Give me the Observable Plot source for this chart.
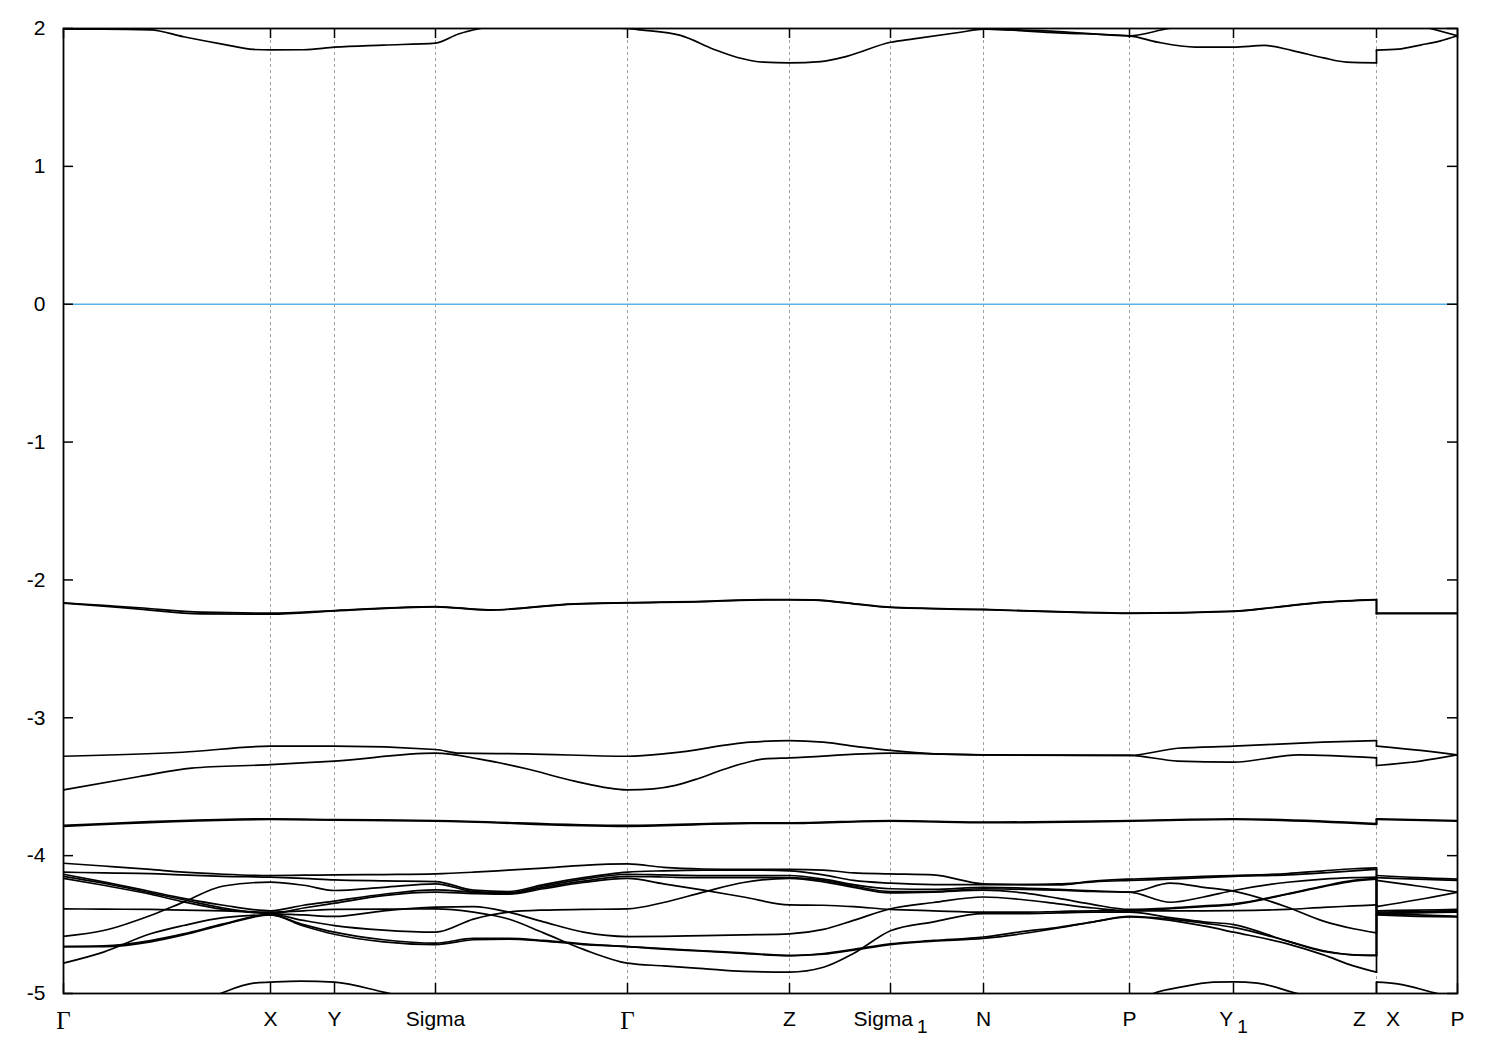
<!DOCTYPE html>
<html>
<head>
<meta charset="utf-8">
<script src="https://cdn.jsdelivr.net/npm/d3@7"></script>
<script src="https://cdn.jsdelivr.net/npm/@observablehq/plot@0.6"></script>
<style>
  body { margin: 0; background: #fff; }
  #chart svg text { font-family: "Liberation Sans", Arial, sans-serif; }
</style>
</head>
<body>
<div id="chart"></div>
<script>
// ---- high-symmetry path ----
const kTicks  = [0, 207, 271, 372, 564, 726, 827, 920, 1066, 1170, 1313, 1394];
const kLabels = ["Γ", "X", "Y", "Sigma", "Γ", "Z", "Sigma1", "N", "P", "Y1", "Z|X", "P"];
const yTicks  = [2, 1, 0, -1, -2, -3, -4, -5];
const fermiLevel = [0];

// ---- conduction bands near 2 eV ----
const c1K = [0,40,87,120,160,190,207,240,271,320,372,395,417,445,480,520,550,564,577,617,650,674,700,726,757,784,827,850,897,920,995,1066,1094,1132,1170,1201,1229,1260,1283,1313,1313,1335,1357,1377,1394];
const c1E = [1.995,1.995,1.99,1.94,1.885,1.848,1.845,1.846,1.865,1.88,1.894,1.96,2.00,2.03,2.05,2.03,2.005,2.0,1.99,1.95,1.85,1.79,1.756,1.751,1.76,1.80,1.90,1.925,1.973,1.995,1.968,1.947,1.901,1.865,1.865,1.877,1.84,1.787,1.756,1.751,1.843,1.85,1.88,1.91,1.947];
const c2K = [564,640,726,790,827,880,920,995,1066,1105,1170,1250,1313,1313,1367,1394];
const c2E = [2.2,2.15,2.1,2.07,2.04,2.01,1.998,1.978,1.947,2.0,2.05,2.08,2.1,2.1,2.0,1.947];

// ---- valence band near -2.2 (two nearly degenerate) ----
const v1K  = [0,40,76,138,207,271,372,425,511,564,640,687,726,750,798,827,920,1012,1066,1170,1211,1259,1313,1313,1394];
const v1aE = [-2.166,-2.185,-2.202,-2.234,-2.241,-2.222,-2.193,-2.217,-2.173,-2.164,-2.155,-2.144,-2.142,-2.144,-2.178,-2.198,-2.214,-2.234,-2.241,-2.227,-2.198,-2.161,-2.142,-2.241,-2.241];
const v1bE = [-2.168,-2.19,-2.212,-2.246,-2.248,-2.225,-2.195,-2.219,-2.175,-2.166,-2.157,-2.146,-2.144,-2.146,-2.18,-2.2,-2.216,-2.236,-2.243,-2.229,-2.2,-2.163,-2.144,-2.245,-2.245];

// ---- bands near -3.2 / -3.5 ----
const v2K = [0,119,207,271,372,396,463,564,607,687,726,760,798,827,871,920,1066,1114,1170,1259,1313,1313,1357,1394];
const v2E = [-3.279,-3.25,-3.206,-3.206,-3.23,-3.257,-3.262,-3.279,-3.257,-3.177,-3.165,-3.177,-3.213,-3.237,-3.262,-3.269,-3.273,-3.221,-3.206,-3.177,-3.165,-3.206,-3.237,-3.269];
const v3K = [0,76,128,207,271,372,415,463,511,564,590,612,635,660,687,701,726,827,920,1066,1114,1170,1235,1313,1313,1357,1394];
const v3E = [-3.523,-3.426,-3.365,-3.34,-3.314,-3.257,-3.298,-3.37,-3.46,-3.523,-3.515,-3.49,-3.44,-3.375,-3.317,-3.298,-3.291,-3.257,-3.269,-3.273,-3.314,-3.322,-3.269,-3.291,-3.346,-3.314,-3.269];

// ---- bands near -3.75 (two nearly degenerate) ----
const v4K  = [0,207,271,372,564,687,726,827,920,1066,1170,1313,1313,1394];
const v4aE = [-3.781,-3.733,-3.738,-3.745,-3.781,-3.762,-3.762,-3.745,-3.757,-3.745,-3.733,-3.768,-3.733,-3.745];
const v4bE = [-3.787,-3.738,-3.742,-3.75,-3.787,-3.767,-3.766,-3.75,-3.761,-3.75,-3.738,-3.773,-3.738,-3.75];

// ---- dense group between -4 and -5 ----
const kDense = [0,40,87,120,160,207,240,271,320,372,410,445,480,520,564,600,640,680,726,760,790,827,870,920,960,995,1030,1066,1107,1140,1170,1224,1260,1290,1313,1313,1354,1394];
const d1  = [-4.055,-4.075,-4.10,-4.12,-4.135,-4.144, -4.142,-4.14,-4.137,-4.132, -4.12,-4.105,-4.09,-4.07,-4.06, -4.085,-4.097,-4.10,-4.10, -4.105,-4.125,-4.132, -4.14,-4.205, -4.21,-4.212,-4.185,-4.17, -4.16,-4.15,-4.144,-4.13,-4.11,-4.095,-4.089, -4.144,-4.16,-4.17];
const d2  = [-4.12,-4.125,-4.13,-4.14,-4.15,-4.156, -4.165,-4.176,-4.183,-4.188, -4.25,-4.26,-4.21,-4.16,-4.12, -4.11,-4.105,-4.105,-4.11, -4.14,-4.18,-4.20, -4.21,-4.21, -4.21,-4.205,-4.19,-4.18, -4.17,-4.16,-4.15,-4.14,-4.125,-4.11,-4.10, -4.16,-4.17,-4.18];
const d3  = [-4.135,-4.19,-4.26,-4.31,-4.36,-4.40, -4.36,-4.33,-4.28,-4.248, -4.265,-4.275,-4.23,-4.185,-4.15, -4.155,-4.16,-4.16,-4.16, -4.18,-4.22,-4.26, -4.26,-4.24, -4.245,-4.25,-4.26,-4.265, -4.338,-4.30,-4.253,-4.193,-4.17,-4.16,-4.156, -4.37,-4.32,-4.265];
const d4  = [-4.15,-4.20,-4.27,-4.32,-4.38,-4.42, -4.38,-4.345,-4.29,-4.265, -4.275,-4.28,-4.24,-4.195,-4.165, -4.205,-4.25,-4.30,-4.357, -4.36,-4.37,-4.39, -4.40,-4.41, -4.41,-4.405,-4.40,-4.40, -4.40,-4.40,-4.399,-4.39,-4.375,-4.365,-4.357, -4.42,-4.41,-4.40];
const d5  = [-4.165,-4.215,-4.28,-4.335,-4.39,-4.42, -4.43,-4.441,-4.40,-4.374, -4.37,-4.41,-4.48,-4.555,-4.587, -4.585,-4.58,-4.575,-4.567, -4.535,-4.47,-4.385, -4.34,-4.30, -4.32,-4.35,-4.38,-4.40, -4.385,-4.37,-4.355,-4.28,-4.225,-4.185,-4.17, -4.41,-4.405,-4.40];
const d6  = [-4.386,-4.388,-4.39,-4.395,-4.40,-4.41, -4.40,-4.39,-4.388,-4.386, -4.41,-4.46,-4.56,-4.68,-4.78, -4.80,-4.82,-4.84,-4.845, -4.81,-4.71,-4.545, -4.48,-4.42, -4.42,-4.415,-4.41,-4.41, -4.45,-4.48,-4.50,-4.62,-4.69,-4.72,-4.724, -4.42,-4.415,-4.41];
const d7  = [-4.585,-4.543,-4.434,-4.337,-4.22,-4.192, -4.215,-4.253,-4.23,-4.205, -4.26,-4.27,-4.22,-4.17,-4.135, -4.14,-4.145,-4.145,-4.144, -4.17,-4.21,-4.24, -4.245,-4.23, -4.235,-4.245,-4.255,-4.265, -4.20,-4.23,-4.258,-4.374,-4.475,-4.53,-4.56, -4.18,-4.22,-4.265];
const d8  = [-4.66,-4.655,-4.616,-4.567,-4.495,-4.425, -4.47,-4.507,-4.54,-4.555, -4.46,-4.41,-4.395,-4.39,-4.386, -4.34,-4.265,-4.195,-4.165, -4.19,-4.23,-4.27, -4.265,-4.25, -4.27,-4.31,-4.355,-4.39, -4.38,-4.365,-4.35,-4.277,-4.22,-4.18,-4.165, -4.40,-4.395,-4.39];
const d9  = [-4.66,-4.66,-4.625,-4.575,-4.50,-4.43, -4.50,-4.555,-4.61,-4.635, -4.60,-4.60,-4.615,-4.64,-4.66, -4.675,-4.69,-4.705,-4.725, -4.71,-4.68,-4.64, -4.615,-4.59, -4.55,-4.52,-4.48,-4.44, -4.46,-4.49,-4.52,-4.62,-4.695,-4.72,-4.724, -4.425,-4.43,-4.44];
const d10 = [-4.78,-4.70,-4.567,-4.507,-4.45,-4.43, -4.51,-4.57,-4.625,-4.645, -4.61,-4.605,-4.62,-4.645,-4.66, -4.678,-4.693,-4.71,-4.725, -4.715,-4.685,-4.645, -4.62,-4.60, -4.565,-4.525,-4.48,-4.445, -4.47,-4.51,-4.555,-4.64,-4.72,-4.80,-4.845, -4.43,-4.44,-4.445];

// ---- lowest band (mostly below -5) ----
const lK = [0,100,157,190,207,237,271,320,372,564,726,1066,1090,1117,1150,1170,1194,1234,1313,1313,1334,1374,1394];
const lE = [-5.5,-5.2,-5.0,-4.925,-4.918,-4.91,-4.918,-4.99,-5.08,-5.4,-5.4,-5.1,-5.0,-4.954,-4.918,-4.915,-4.925,-5.0,-5.1,-4.918,-4.93,-5.0,-5.03];

// ---- assemble: each band split at the Z|X discontinuity ----
const zip = (K, E) => K.map((k, i) => ({k, E: E[i]}));
const bandList = [
  zip(c1K, c1E), zip(c2K, c2E),
  zip(v1K, v1aE), zip(v1K, v1bE),
  zip(v2K, v2E), zip(v3K, v3E),
  zip(v4K, v4aE), zip(v4K, v4bE),
  ...[d1, d2, d3, d4, d5, d6, d7, d8, d9, d10].map(d => zip(kDense, d)),
  zip(lK, lE)
];
const smoothParts = [], jumpParts = [];
bandList.forEach((b, bi) => {
  let start = 0;
  for (let i = 1; i < b.length; i++) {
    if (b[i].k === b[i - 1].k) {
      smoothParts.push(b.slice(start, i).map(p => ({...p, id: bi + "-" + start})));
      jumpParts.push([b[i - 1], b[i]].map(p => ({...p, id: bi + "-j" + i})));
      start = i;
    }
  }
  smoothParts.push(b.slice(start).map(p => ({...p, id: bi + "-" + start})));
});
const smoothData = smoothParts.flat();
const jumpData = jumpParts.flat();

const W = 1500, H = 1050;
const mL = 63, mR = 43, mT = 28, mB = 57;
const xDom = [kTicks[0], kTicks[kTicks.length - 1]];
const yDom = [-5, 2];
const tickPx = 10;
const tickK = tickPx * (xDom[1] - xDom[0]) / (W - mL - mR);
const tickE = tickPx * (yDom[1] - yDom[0]) / (H - mT - mB);

const svg = Plot.plot({
  width: W, height: H,
  marginLeft: mL, marginRight: mR, marginTop: mT, marginBottom: mB,
  x: {domain: xDom},
  y: {domain: yDom},
  style: {fontFamily: "Liberation Sans, Arial, sans-serif", background: "#fff"},
  marks: [
    Plot.ruleX(kTicks.slice(1, -1), {stroke: "#a0a0a0", strokeWidth: 1, strokeDasharray: "3,3"}),
    Plot.ruleY(fermiLevel, {stroke: "#56b4e9", strokeWidth: 1.6}),
    Plot.line(smoothData, {x: "k", y: "E", z: "id", curve: "monotone-x", stroke: "black", strokeWidth: 1.7, clip: true}),
    Plot.line(jumpData, {x: "k", y: "E", z: "id", stroke: "black", strokeWidth: 1.7, clip: true}),
    Plot.frame({stroke: "black", strokeWidth: 1.8}),
    Plot.ruleY(yTicks, {x1: xDom[0], x2: xDom[0] + tickK, stroke: "black", strokeWidth: 1.5}),
    Plot.ruleY(yTicks, {x1: xDom[1] - tickK, x2: xDom[1], stroke: "black", strokeWidth: 1.5}),
    Plot.ruleX(kTicks, {y1: yDom[0], y2: yDom[0] + tickE, stroke: "black", strokeWidth: 1.5}),
    Plot.ruleX(kTicks, {y1: yDom[1] - tickE, y2: yDom[1], stroke: "black", strokeWidth: 1.5}),
    Plot.axisY({ticks: yTicks, tickSize: 0, tickPadding: 18, fontSize: 21, tickFormat: d => String(d), label: null}),
    Plot.axisX({ticks: kTicks, tickSize: 0, tickPadding: 18, fontSize: 21, tickFormat: d => kLabels[kTicks.indexOf(d)], label: null})
  ]
});

// typographic touches on the k-point labels (subscripts, Greek in serif, Z|X pair)
const NS = "http://www.w3.org/2000/svg";
svg.querySelectorAll('g[aria-label="x-axis tick label"] text').forEach(t => {
  const s = t.textContent;
  if (s === "Γ") {
    t.style.fontFamily = "Liberation Serif, DejaVu Serif, serif";
    t.setAttribute("font-size", "25");
  } else if (s === "Sigma1" || s === "Y1") {
    t.textContent = s.slice(0, -1);
    const sub = document.createElementNS(NS, "tspan");
    sub.setAttribute("dx", "4");
    sub.setAttribute("dy", "7");
    sub.setAttribute("font-size", "19");
    sub.textContent = "1";
    t.appendChild(sub);
  } else if (s === "Z|X") {
    t.textContent = "Z";
    const x2 = document.createElementNS(NS, "tspan");
    x2.setAttribute("dx", "20");
    x2.textContent = "X";
    t.appendChild(x2);
  }
});

document.getElementById("chart").appendChild(svg);
</script>
</body>
</html>
